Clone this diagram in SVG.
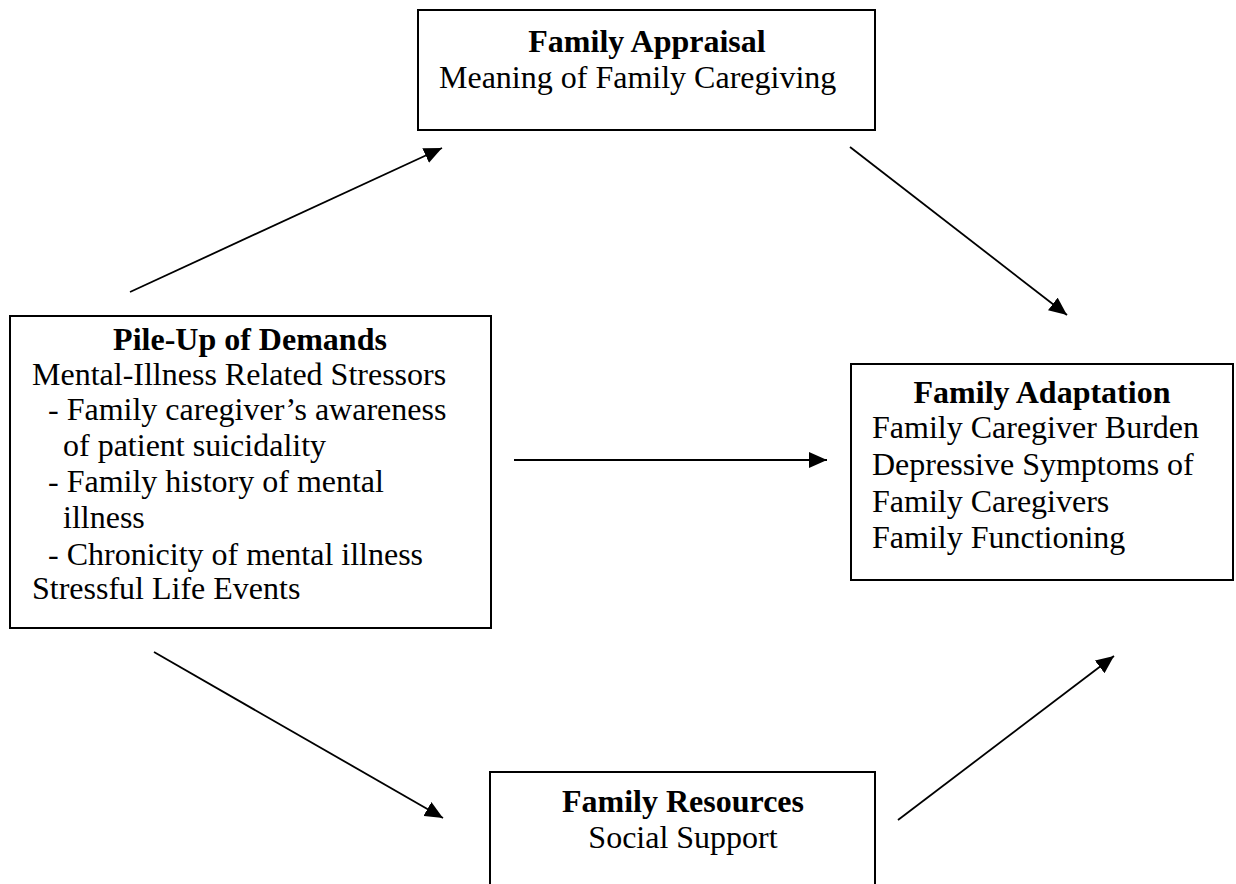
<svg xmlns="http://www.w3.org/2000/svg" width="1236" height="884" viewBox="0 0 1236 884">
<style>
.box{fill:#fff;stroke:#000;stroke-width:2}
text{font-family:"Liberation Serif","Times New Roman",serif;font-size:32px;fill:#000}
.t{font-weight:bold;text-anchor:middle}
.c{text-anchor:middle}
.e{stroke:#000;stroke-width:1.8;fill:none;marker-end:url(#ah)}
</style>
<defs>
<marker id="ah" markerUnits="userSpaceOnUse" markerWidth="19" markerHeight="16" viewBox="0 0 19 16" refX="18" refY="8" orient="auto">
<path d="M0,0 L18,8 L0,16 Z" fill="#000"/>
</marker>
</defs>
<rect width="1236" height="884" fill="#fff"/>
<g id="appraisal">
<rect class="box" x="418" y="10" width="457" height="120"/>
<text class="t" x="647" y="52">Family Appraisal</text>
<text x="439" y="88">Meaning of Family Caregiving</text>
</g>
<g id="demands">
<rect class="box" x="10" y="316" width="481" height="312"/>
<text class="t" x="250" y="350">Pile-Up of Demands</text>
<text x="32" y="385">Mental-Illness Related Stressors</text>
<text x="48" y="420">- Family caregiver’s awareness</text>
<text x="63" y="456">of patient suicidality</text>
<text x="48" y="492">- Family history of mental</text>
<text x="63" y="528">illness</text>
<text x="48" y="565">- Chronicity of mental illness</text>
<text x="32" y="599">Stressful Life Events</text>
</g>
<g id="adaptation">
<rect class="box" x="851" y="364" width="382" height="216"/>
<text class="t" x="1042" y="403">Family Adaptation</text>
<text x="872" y="438">Family Caregiver Burden</text>
<text x="872" y="475">Depressive Symptoms of</text>
<text x="872" y="512">Family Caregivers</text>
<text x="872" y="548">Family Functioning</text>
</g>
<g id="resources">
<rect class="box" x="490" y="772" width="385" height="130"/>
<text class="t" x="683" y="812">Family Resources</text>
<text class="c" x="683" y="848">Social Support</text>
</g>
<g id="connectors">
<line class="e" x1="130" y1="292" x2="442" y2="148"/>
<line class="e" x1="850" y1="147" x2="1067" y2="315"/>
<line class="e" x1="514" y1="460" x2="827" y2="460"/>
<line class="e" x1="154" y1="652" x2="443" y2="818"/>
<line class="e" x1="898" y1="820" x2="1114" y2="656"/>
</g>
</svg>
